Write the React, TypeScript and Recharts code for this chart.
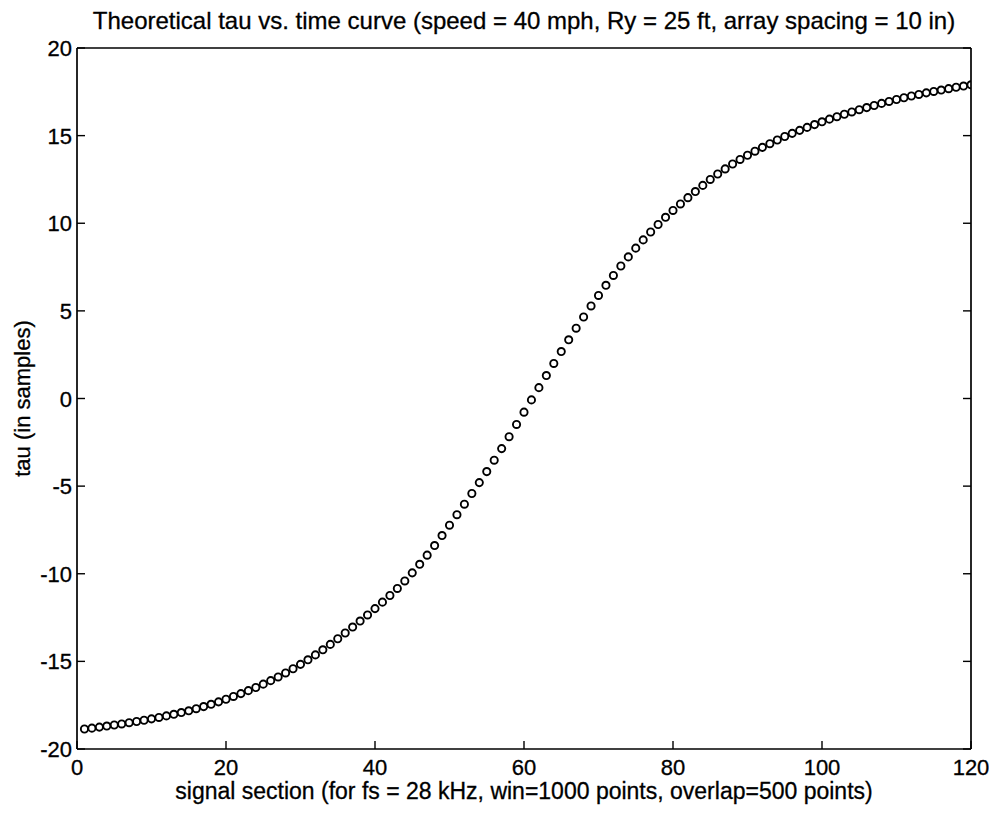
import { Label, Scatter, ScatterChart, XAxis, YAxis } from 'recharts'

// signal section index (x) and theoretical tau (y)
const sections = [
  1, 2, 3, 4, 5, 6, 7, 8, 9, 10, 11, 12, 13, 14, 15, 16, 17, 18, 19, 20,
  21, 22, 23, 24, 25, 26, 27, 28, 29, 30, 31, 32, 33, 34, 35, 36, 37, 38, 39, 40,
  41, 42, 43, 44, 45, 46, 47, 48, 49, 50, 51, 52, 53, 54, 55, 56, 57, 58, 59, 60,
  61, 62, 63, 64, 65, 66, 67, 68, 69, 70, 71, 72, 73, 74, 75, 76, 77, 78, 79, 80,
  81, 82, 83, 84, 85, 86, 87, 88, 89, 90, 91, 92, 93, 94, 95, 96, 97, 98, 99, 100,
  101, 102, 103, 104, 105, 106, 107, 108, 109, 110, 111, 112, 113, 114, 115, 116, 117, 118, 119, 120,
]

const tau = [
  -18.86, -18.81, -18.75, -18.69, -18.63, -18.57, -18.5, -18.43, -18.36, -18.28,
  -18.2, -18.11, -18.02, -17.92, -17.82, -17.7, -17.58, -17.45, -17.31, -17.16,
  -17.0, -16.84, -16.67, -16.49, -16.3, -16.1, -15.89, -15.66, -15.42, -15.17,
  -14.91, -14.63, -14.34, -14.03, -13.71, -13.38, -13.04, -12.7, -12.35, -11.99,
  -11.62, -11.24, -10.84, -10.41, -9.95, -9.46, -8.94, -8.39, -7.82, -7.23,
  -6.63, -6.03, -5.42, -4.8, -4.17, -3.52, -2.86, -2.18, -1.48, -0.78,
  -0.08, 0.62, 1.31, 2.0, 2.68, 3.35, 4.01, 4.65, 5.28, 5.88,
  6.46, 7.02, 7.56, 8.08, 8.58, 9.05, 9.5, 9.93, 10.34, 10.73,
  11.1, 11.46, 11.81, 12.16, 12.5, 12.81, 13.1, 13.38, 13.64, 13.88,
  14.11, 14.33, 14.54, 14.75, 14.95, 15.13, 15.3, 15.47, 15.63, 15.79,
  15.94, 16.08, 16.22, 16.35, 16.48, 16.6, 16.72, 16.84, 16.95, 17.06,
  17.16, 17.26, 17.35, 17.44, 17.52, 17.6, 17.68, 17.76, 17.83, 17.9,
]

const xTicks = [0, 20, 40, 60, 80, 100, 120]
const yTicks = [-20, -15, -10, -5, 0, 5, 10, 15, 20]

const title = 'Theoretical tau vs. time curve (speed = 40 mph, Ry = 25 ft, array spacing = 10 in)'
const xTitle = 'signal section (for fs = 28 kHz, win=1000 points, overlap=500 points)'
const yTitle = 'tau (in samples)'

const data = sections.map((s, i) => ({ section: s, tau: tau[i] }))

const FONT = '"Liberation Sans", Arial, Helvetica, sans-serif'
const INK = '#000'
const TICK = 8
const axisStyle = { stroke: INK, strokeWidth: 1.7 }
const textStyle = { fontFamily: FONT, fill: INK, stroke: INK, strokeWidth: 0.3 }

// ticks point inward (matlab style), labels outside
function BottomTick({ x, y, payload }: any) {
  return (
    <g>
      <line x1={x} x2={x} y1={y} y2={y - TICK} stroke={INK} strokeWidth={1.4} />
      <text x={x} y={y + 26} textAnchor="middle" fontSize={22} {...textStyle}>
        {payload.value}
      </text>
    </g>
  )
}

function LeftTick({ x, y, payload }: any) {
  return (
    <g>
      <line x1={x} x2={x + TICK} y1={y} y2={y} stroke={INK} strokeWidth={1.4} />
      <text x={x - 5} y={y + 8} textAnchor="end" fontSize={22} {...textStyle}>
        {payload.value}
      </text>
    </g>
  )
}

function TopTick({ x, y }: any) {
  return <line x1={x} x2={x} y1={y} y2={y + TICK} stroke={INK} strokeWidth={1.4} />
}

function RightTick({ x, y }: any) {
  return <line x1={x} x2={x - TICK} y1={y} y2={y} stroke={INK} strokeWidth={1.4} />
}

function Ring({ cx, cy }: any) {
  return <circle cx={cx} cy={cy} r={3.6} fill="none" stroke={INK} strokeWidth={1.9} />
}

export default function App() {
  return (
    <div style={{ width: 981, height: 801, background: '#fff' }}>
      <ScatterChart width={981} height={801} margin={{ top: 39, right: 17, bottom: 59, left: 68 }}>
        <XAxis
          type="number"
          dataKey="section"
          domain={[0, 120]}
          ticks={xTicks}
          interval={0}
          height={1}
          tickSize={0}
          tickMargin={0}
          tick={<BottomTick />}
          axisLine={axisStyle}
          allowDataOverflow
        >
          <Label
            content={({ viewBox }: any) => (
              <text
                x={viewBox.x + viewBox.width / 2}
                y={viewBox.y + 50}
                textAnchor="middle"
                fontSize={23}
                {...textStyle}
              >
                {xTitle}
              </text>
            )}
          />
        </XAxis>
        <XAxis
          xAxisId="top"
          orientation="top"
          type="number"
          domain={[0, 120]}
          ticks={xTicks}
          interval={0}
          height={1}
          tickSize={0}
          tickMargin={0}
          tick={<TopTick />}
          axisLine={axisStyle}
          allowDataOverflow
        >
          <Label
            content={({ viewBox }: any) => (
              <text
                x={viewBox.x + viewBox.width / 2}
                y={viewBox.y - 18}
                textAnchor="middle"
                fontSize={24}
                {...textStyle}
              >
                {title}
              </text>
            )}
          />
        </XAxis>
        <YAxis
          type="number"
          dataKey="tau"
          domain={[-20, 20]}
          ticks={yTicks}
          interval={0}
          width={1}
          tickSize={0}
          tickMargin={0}
          tick={<LeftTick />}
          axisLine={axisStyle}
          allowDataOverflow
        >
          <Label
            content={({ viewBox }: any) => {
              const cx = 22
              const cy = viewBox.y + viewBox.height / 2
              return (
                <text
                  x={cx}
                  y={cy}
                  transform={`rotate(-90 ${cx} ${cy})`}
                  textAnchor="middle"
                  fontSize={22}
                  {...textStyle}
                >
                  {yTitle}
                </text>
              )
            }}
          />
        </YAxis>
        <YAxis
          yAxisId="right"
          orientation="right"
          type="number"
          domain={[-20, 20]}
          ticks={yTicks}
          interval={0}
          width={1}
          tickSize={0}
          tickMargin={0}
          tick={<RightTick />}
          axisLine={axisStyle}
          allowDataOverflow
        />
        <Scatter data={data} dataKey="tau" shape={<Ring />} isAnimationActive={false} />
      </ScatterChart>
    </div>
  )
}
